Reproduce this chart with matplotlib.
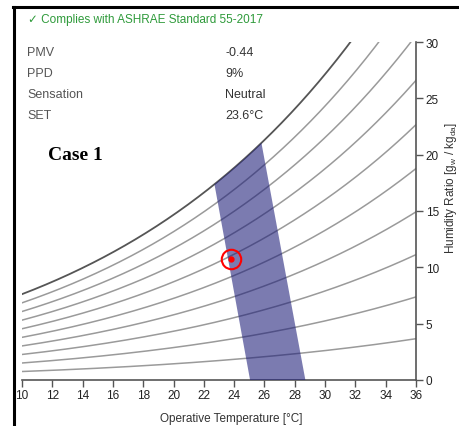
import numpy as np
import matplotlib
matplotlib.use("Agg")
import matplotlib.pyplot as plt
from matplotlib.patches import Polygon

plt.rcParams['font.family'] = ['Liberation Sans', 'DejaVu Sans']

# relative humidity levels for the chart lines (%)
rh_levels = [10, 20, 30, 40, 50, 60, 70, 80, 90, 100]

# comfort zone: operative temperature at W = 0 and where it meets saturation
zone_bottom_t = [25.05, 28.7]
zone_top_t = [22.7, 25.8]

# operating point
point_t = 23.8
point_w = 10.7

results_labels = ["PMV", "PPD", "Sensation", "SET"]
results_values = ["-0.44", "9%", "Neutral", "23.6°C"]

x_ticks = list(range(10, 37, 2))
y_ticks = [0, 5, 10, 15, 20, 25, 30]

P_ATM = 101.325
W, H = 459, 427


def sat_pressure(t):
    return 0.61094 * np.exp(17.625 * t / (t + 243.04))


def humidity_ratio(t, rh):
    pv = rh / 100.0 * sat_pressure(t)
    return 622.0 * pv / (P_ATM - pv)


fig = plt.figure(figsize=(W / 100, H / 100), dpi=100)
ax = fig.add_axes([22 / W, 46 / H, 394 / W, 338 / H])

temps = np.linspace(10, 36, 300)
for rh in rh_levels:
    if rh == 100:
        ax.plot(temps, humidity_ratio(temps, rh), color='#555555', lw=1.3, zorder=2)
    else:
        ax.plot(temps, humidity_ratio(temps, rh), color='#9a9a9a', lw=1.1, zorder=2)

# comfort zone polygon, top edge follows the saturation curve
top_t = np.linspace(zone_top_t[0], zone_top_t[1], 30)
verts = [(zone_bottom_t[0], 0)] + [(t, humidity_ratio(t, 100)) for t in top_t] + [(zone_bottom_t[1], 0)]
ax.add_patch(Polygon(verts, closed=True, facecolor='#1c1c78', alpha=0.58, lw=0, zorder=3))

ax.plot(point_t, point_w, 'o', color='red', ms=3.5, zorder=5)
ax.plot(point_t, point_w, 'o', ms=14, mfc='none', mec='red', mew=1.5, zorder=5)

ax.set_xlim(10, 36)
ax.set_ylim(0, 30)
ax.set_xticks(x_ticks)
ax.set_yticks(y_ticks)
for s in ['top', 'left']:
    ax.spines[s].set_visible(False)
for s in ['bottom', 'right']:
    ax.spines[s].set_color('#555555')
    ax.spines[s].set_linewidth(1.2)
ax.yaxis.tick_right()
ax.tick_params(axis='both', colors='#555555', labelcolor='#222222', labelsize=8.5, length=5, width=1)
ax.tick_params(axis='y', pad=2)
ax.tick_params(axis='x', pad=1.5)

# axis titles
fig.text(231 / W, 1 - 419 / H, 'Operative Temperature [°C]', fontsize=8.5, color='#333333',
         ha='center', va='center')
fig.text(451 / W, 1 - 188 / H, r'Humidity Ratio [$\mathregular{g_w}$ / $\mathregular{kg_{da}}$]',
         fontsize=8.5, color='#333333', rotation=90, ha='center', va='center')

# results panel
fig.text(28 / W, 1 - 20 / H, '✓ Complies with ASHRAE Standard 55-2017', fontsize=8.5,
         color='#2e9a3a', va='center', ha='left')
for i, (lab, val) in enumerate(zip(results_labels, results_values)):
    y = 1 - (53 + i * 21) / H
    fig.text(27 / W, y, lab, fontsize=9, color='#555555', va='center')
    fig.text(225 / W, y, val, fontsize=9, color='#333333', va='center')

fig.text(48 / W, 1 - 156 / H, 'Case 1', fontsize=14, fontweight='bold',
         family='Liberation Serif', color='black', va='center')

# frame lines on the left and top
fig.add_artist(plt.Line2D([14 / W, 14 / W], [0, 1 - 8 / H], color='black', lw=2.2))
fig.add_artist(plt.Line2D([13 / W, 1], [1 - 8 / H, 1 - 8 / H], color='black', lw=2.2))

fig.savefig('out.png', dpi=100)
